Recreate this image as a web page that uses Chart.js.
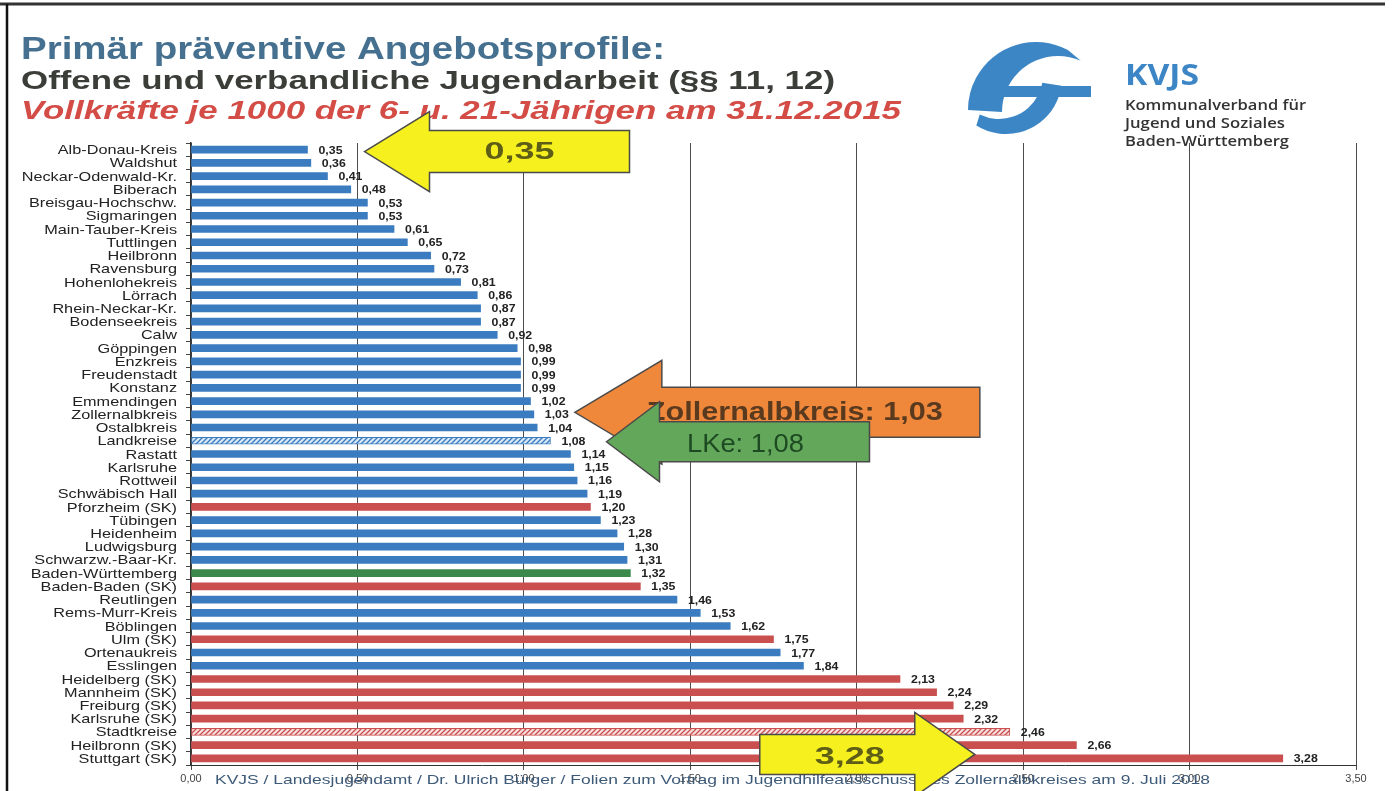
<!DOCTYPE html>
<html>
<head>
<meta charset="utf-8">
<script src="https://cdn.jsdelivr.net/npm/chart.js@4.4.0/dist/chart.umd.min.js"></script>
<style>
html, body { margin: 0; padding: 0; background: #fff; }
#wrap { width: 1395px; height: 791px; position: relative; }
</style>
</head>
<body>
<div id="wrap"><canvas id="chart"></canvas></div>
<script>
// Vollkräfte je 1000 der 6- u. 21-Jährigen, Stand 31.12.2015
const categories = [
  'Alb-Donau-Kreis', 'Waldshut', 'Neckar-Odenwald-Kr.', 'Biberach', 'Breisgau-Hochschw.',
  'Sigmaringen', 'Main-Tauber-Kreis', 'Tuttlingen', 'Heilbronn', 'Ravensburg',
  'Hohenlohekreis', 'Lörrach', 'Rhein-Neckar-Kr.', 'Bodenseekreis', 'Calw',
  'Göppingen', 'Enzkreis', 'Freudenstadt', 'Konstanz', 'Emmendingen',
  'Zollernalbkreis', 'Ostalbkreis', 'Landkreise', 'Rastatt', 'Karlsruhe',
  'Rottweil', 'Schwäbisch Hall', 'Pforzheim (SK)', 'Tübingen', 'Heidenheim',
  'Ludwigsburg', 'Schwarzw.-Baar-Kr.', 'Baden-Württemberg', 'Baden-Baden (SK)', 'Reutlingen',
  'Rems-Murr-Kreis', 'Böblingen', 'Ulm (SK)', 'Ortenaukreis', 'Esslingen',
  'Heidelberg (SK)', 'Mannheim (SK)', 'Freiburg (SK)', 'Karlsruhe (SK)', 'Stadtkreise',
  'Heilbronn (SK)', 'Stuttgart (SK)'
];
const values = [
  0.35, 0.36, 0.41, 0.48, 0.53,
  0.53, 0.61, 0.65, 0.72, 0.73,
  0.81, 0.86, 0.87, 0.87, 0.92,
  0.98, 0.99, 0.99, 0.99, 1.02,
  1.03, 1.04, 1.08, 1.14, 1.15,
  1.16, 1.19, 1.20, 1.23, 1.28,
  1.30, 1.31, 1.32, 1.35, 1.46,
  1.53, 1.62, 1.75, 1.77, 1.84,
  2.13, 2.24, 2.29, 2.32, 2.46,
  2.66, 3.28
];
// lk = Landkreis, sk = Stadtkreis, lkAll / skAll = Durchschnitt, bw = Land
const kinds = [
  'lk', 'lk', 'lk', 'lk', 'lk',
  'lk', 'lk', 'lk', 'lk', 'lk',
  'lk', 'lk', 'lk', 'lk', 'lk',
  'lk', 'lk', 'lk', 'lk', 'lk',
  'lk', 'lk', 'lkAll', 'lk', 'lk',
  'lk', 'lk', 'sk', 'lk', 'lk',
  'lk', 'lk', 'bw', 'sk', 'lk',
  'lk', 'lk', 'sk', 'lk', 'lk',
  'sk', 'sk', 'sk', 'sk', 'skAll',
  'sk', 'sk'
];
const xMin = 0, xMax = 3.5, xStep = 0.5;

const FONT = '"Liberation Sans", Arial, sans-serif';
const BLUE = '#3a7cbf', RED = '#c9504f', GREEN = '#3b8a4c';

function hatch(bg, fg) {
  const c = document.createElement('canvas');
  c.width = 5; c.height = 5;
  const g = c.getContext('2d');
  g.fillStyle = bg; g.fillRect(0, 0, 5, 5);
  g.strokeStyle = fg; g.lineWidth = 1.3;
  g.beginPath();
  g.moveTo(-1, 6); g.lineTo(6, -1);
  g.moveTo(-1, 1); g.lineTo(1, -1);
  g.moveTo(4, 6); g.lineTo(6, 4);
  g.stroke();
  return g.createPattern(c, 'repeat');
}

const fills = {
  lk: BLUE, sk: RED, bw: GREEN,
  lkAll: hatch('#d9e8f5', BLUE), skAll: hatch('#f7dede', RED)
};
const edges = { lk: BLUE, sk: RED, bw: GREEN, lkAll: BLUE, skAll: RED };

function fmt(v) { return v.toFixed(2).replace('.', ','); }

function text(ctx, str, x, y, font, color, o) {
  o = o || {};
  ctx.save();
  ctx.font = font;
  ctx.fillStyle = color;
  ctx.textBaseline = o.baseline || 'alphabetic';
  ctx.textAlign = 'left';
  const w = ctx.measureText(str).width;
  const sx = o.width ? o.width / w : (o.sx || 1);
  let x0 = x;
  if (o.align === 'right') x0 = x - w * sx;
  else if (o.align === 'center') x0 = x - w * sx / 2;
  ctx.translate(x0, y);
  ctx.scale(sx, 1);
  ctx.fillText(str, 0, 0);
  ctx.restore();
}

// callouts, anchored to a row and value of the chart
const callouts = [
  { label: 'Zollernalbkreis: 1,03', row: 'Zollernalbkreis', at: 1.03, dx: 41, dy: -2, dir: -1,
    headLen: 87, headHalf: 52, shaftHalf: 25, shaftLen: 318, fill: '#f0883c', ink: '#5a3a1f',
    font: 'bold 25px ' + FONT, textW: 296, textDx: 220, textDy: 1 },
  { label: 'LKe: 1,08', row: 'Landkreise', at: 1.08, dx: 56, dy: 1, dir: -1,
    headLen: 53, headHalf: 40, shaftHalf: 20, shaftLen: 210, fill: '#63a85a', ink: '#1d4a22',
    font: '25px ' + FONT, textW: 117, textDx: 139, textDy: 3 },
  { label: '0,35', row: 'Alb-Donau-Kreis', at: 0.35, dx: 57, dy: 2, dir: -1,
    headLen: 65, headHalf: 40, shaftHalf: 21, shaftLen: 200, fill: '#f5f01e', ink: '#5e5e17',
    font: 'bold 24px ' + FONT, textW: 70, textDx: 155, textDy: 1 },
  { label: '3,28', row: 'Stuttgart (SK)', at: 3.28, dx: -308, dy: -4, dir: 1,
    headLen: 60, headHalf: 42, shaftHalf: 20, shaftLen: 155, fill: '#f5f01e', ink: '#5e5e17',
    font: 'bold 24px ' + FONT, textW: 70, textDx: -125, textDy: 3 }
];

function drawArrow(ctx, a, tx, ty) {
  const d = a.dir;
  const bx = tx - d * a.headLen;
  const ex = bx - d * a.shaftLen;
  ctx.save();
  ctx.beginPath();
  ctx.moveTo(tx, ty);
  ctx.lineTo(bx, ty - a.headHalf);
  ctx.lineTo(bx, ty - a.shaftHalf);
  ctx.lineTo(ex, ty - a.shaftHalf);
  ctx.lineTo(ex, ty + a.shaftHalf);
  ctx.lineTo(bx, ty + a.shaftHalf);
  ctx.lineTo(bx, ty + a.headHalf);
  ctx.closePath();
  ctx.fillStyle = a.fill;
  ctx.fill();
  ctx.strokeStyle = '#4a4a4a';
  ctx.lineWidth = 1.5;
  ctx.stroke();
  ctx.restore();
  text(ctx, a.label, tx + a.textDx, ty + a.textDy, a.font, a.ink,
    { width: a.textW, align: 'center', baseline: 'middle' });
}

function drawLogo(ctx) {
  const c = '#3d86c6';
  const r = Math.PI / 180;
  ctx.save();
  ctx.fillStyle = c;
  // upper arc, thin at the top right, thick on the left
  ctx.beginPath();
  ctx.arc(1036, 110, 68, -62 * r, -180 * r, true);
  ctx.arc(1058, 112, 56, -180 * r, -66 * r, false);
  ctx.closePath();
  ctx.fill();
  // middle bar
  ctx.fillRect(1004, 86, 87, 11);
  // lower arc, from the bar down to the lower left
  ctx.beginPath();
  ctx.arc(1006, 78, 56, 8 * r, 122 * r, false);
  ctx.arc(999, 75, 44, 116 * r, 10 * r, true);
  ctx.closePath();
  ctx.fill();
  ctx.restore();
  text(ctx, 'KVJS', 1125, 85, 'bold 28px "Open Sans", ' + FONT, c, { width: 74 });
  const f = '600 14px "Open Sans", ' + FONT;
  text(ctx, 'Kommunalverband für', 1125, 110, f, '#333', { width: 181 });
  text(ctx, 'Jugend und Soziales', 1125, 128, f, '#333', { width: 160 });
  text(ctx, 'Baden-Württemberg', 1125, 146, f, '#333', { width: 164 });
}

const decor = {
  id: 'decor',
  beforeDraw(chart) {
    const ctx = chart.ctx;
    ctx.save();
    ctx.fillStyle = '#fff';
    ctx.fillRect(0, 0, chart.width, chart.height);
    ctx.restore();
  },
  afterDatasetsDraw(chart) {
    const ctx = chart.ctx;
    const meta = chart.getDatasetMeta(0);
    meta.data.forEach((bar, i) => {
      text(ctx, fmt(values[i]), bar.x + 11, bar.y + 1, 'bold 11px ' + FONT, '#222',
        { sx: 1.12, baseline: 'middle' });
    });
  },
  afterDraw(chart) {
    const ctx = chart.ctx;
    const y = chart.scales.y, x = chart.scales.x;

    // row labels
    categories.forEach((name, i) => {
      text(ctx, name, 177, y.getPixelForValue(i) + 1, '13px ' + FONT, '#222',
        { sx: 1.25, align: 'right', baseline: 'middle' });
    });

    // headings
    text(ctx, 'Primär präventive Angebotsprofile:', 21, 59, 'bold 31px ' + FONT, '#46708f', { width: 644 });
    text(ctx, 'Offene und verbandliche Jugendarbeit (§§ 11, 12)', 21, 89, 'bold 25px ' + FONT, '#3a3d38', { width: 814 });
    text(ctx, 'Vollkräfte je 1000 der 6- u. 21-Jährigen am 31.12.2015', 21, 119, 'italic bold 26px ' + FONT, '#d44c46', { width: 880 });

    drawLogo(ctx);

    // footer
    text(ctx, 'KVJS / Landesjugendamt / Dr. Ulrich Bürger / Folien zum Vortrag im Jugendhilfeausschuss des Zollernalbkreises am 9. Juli 2018',
      215, 784, '13px ' + FONT, '#3d5a78', { width: 995 });

    // callouts
    callouts.forEach(a => {
      const i = categories.indexOf(a.row);
      drawArrow(ctx, a, x.getPixelForValue(a.at) + a.dx, y.getPixelForValue(i) + a.dy);
    });

    // scan frame
    ctx.save();
    ctx.strokeStyle = '#333';
    ctx.lineWidth = 3;
    ctx.beginPath();
    ctx.moveTo(0, 4); ctx.lineTo(1385, 4);
    ctx.stroke();
    ctx.strokeStyle = '#111';
    ctx.lineWidth = 2.5;
    ctx.beginPath();
    ctx.moveTo(7, 4); ctx.lineTo(7, 791);
    ctx.stroke();
    ctx.restore();
  }
};

new Chart(document.getElementById('chart'), {
  type: 'bar',
  data: {
    labels: categories,
    datasets: [{
      data: values,
      backgroundColor: kinds.map(k => fills[k]),
      borderColor: kinds.map(k => edges[k]),
      borderWidth: kinds.map(k => (k === 'lkAll' || k === 'skAll') ? 1 : 0),
      borderSkipped: false,
      barThickness: 7
    }]
  },
  options: {
    indexAxis: 'y',
    responsive: true,
    maintainAspectRatio: false,
    animation: false,
    layout: { padding: { left: 0, right: 39, top: 143, bottom: 0 } },
    plugins: { legend: { display: false }, tooltip: { enabled: false } },
    scales: {
      x: {
        min: xMin, max: xMax,
        ticks: {
          stepSize: xStep,
          callback: v => fmt(v),
          font: { family: FONT, size: 11 },
          color: '#444',
          padding: 2,
          maxRotation: 0
        },
        grid: { color: '#4d4d4d', lineWidth: 1, tickLength: 5 },
        border: { color: '#333', width: 1 },
        afterFit: s => { s.height = 26; }
      },
      y: {
        ticks: { display: false },
        grid: { drawOnChartArea: false, tickLength: 5, color: '#444' },
        border: { color: '#333', width: 1.5 },
        afterFit: s => { s.width = 191; }
      }
    }
  },
  plugins: [decor]
});
</script>
</body>
</html>
